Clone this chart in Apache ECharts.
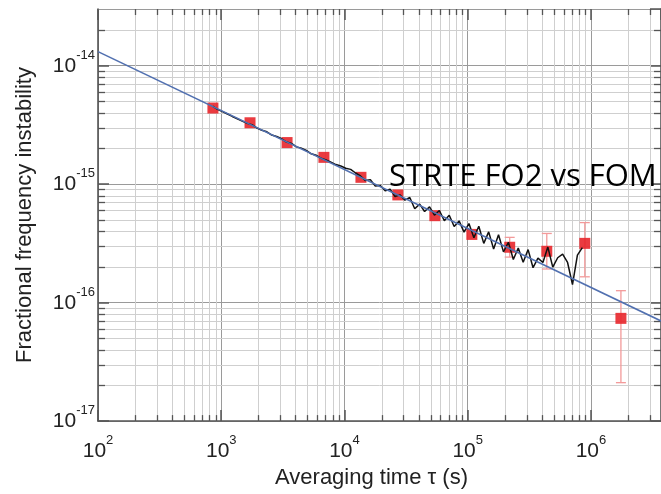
<!DOCTYPE html>
<html>
<head>
<meta charset="UTF-8">
<script src="https://cdn.jsdelivr.net/npm/echarts@6/dist/echarts.min.js"></script>
<style>
  html, body { margin: 0; padding: 0; background: #fff; }
  #main { width: 661px; height: 494px; }
</style>
<title>Instability</title>
</head>
<body>
<div id="main"></div>
<script type="text/javascript">
// black trace: averaging time (s) and fractional instability
var curveTau = [851, 933, 1023, 1122, 1230, 1349, 1479, 1622, 1778, 1950,
  2138, 2344, 2570, 2818, 3090, 3388, 3715, 4074, 4467, 4898,
  5370, 5888, 6457, 7079, 7762, 8511, 9333, 10230, 11220, 12300,
  13490, 14790, 16220, 17780, 19500, 21380, 23440, 25700, 28180, 30900,
  33880, 37150, 40740, 44670, 48980, 53700, 58880, 64570, 70790, 77620,
  85110, 93330, 102300, 112200, 123000, 134900, 147900, 162200, 177800, 195000,
  213800, 234400, 257000, 281800, 309000, 338800, 371500, 407400, 446700, 489800,
  537000, 588800, 645700, 707900, 776200, 851100];
var curveSigma = [4.55e-15, 4.27e-15, 4.08e-15, 3.90e-15, 3.72e-15, 3.56e-15, 3.40e-15, 3.25e-15, 3.17e-15, 2.97e-15,
  2.84e-15, 2.76e-15, 2.59e-15, 2.52e-15, 2.41e-15, 2.26e-15, 2.20e-15, 2.06e-15, 2.01e-15, 1.92e-15,
  1.80e-15, 1.75e-15, 1.65e-15, 1.60e-15, 1.53e-15, 1.46e-15, 1.42e-15, 1.36e-15, 1.33e-15, 1.24e-15,
  1.17e-15, 1.07e-15, 1.09e-15, 9.61e-16, 9.73e-16, 8.78e-16, 9.05e-16, 7.86e-16, 8.11e-16, 7.32e-16,
  7.70e-16, 6.19e-16, 6.77e-16, 5.87e-16, 6.42e-16, 5.47e-16, 5.98e-16, 4.90e-16, 5.46e-16, 4.39e-16,
  4.89e-16, 3.93e-16, 4.64e-16, 3.52e-16, 4.40e-16, 3.16e-16, 3.95e-16, 2.83e-16, 3.74e-16, 2.68e-16,
  3.23e-16, 2.31e-16, 2.89e-16, 2.19e-16, 2.80e-16, 1.97e-16, 2.37e-16, 2.18e-16, 2.94e-16, 1.99e-16,
  2.39e-16, 2.56e-16, 2.18e-16, 1.42e-16, 2.51e-16, 2.91e-16];

// red points with error bars (null = no bar drawn)
var pointTau = [856, 1712, 3420, 6810, 13600, 27100, 54100, 108000, 219000, 438000, 891000, 1750000];
var pointSigma = [4.38e-15, 3.29e-15, 2.24e-15, 1.68e-15, 1.14e-15, 8.10e-16, 5.41e-16, 3.76e-16, 2.93e-16, 2.71e-16, 3.16e-16, 7.36e-17];
var pointLow = [null, null, null, null, null, null, null, null, 2.42e-16, 1.92e-16, 1.65e-16, 2.11e-17];
var pointHigh = [null, null, null, null, null, null, null, null, 3.55e-16, 3.83e-16, 4.73e-16, 1.26e-16];

// blue fit line end points
var fitTau = [100, 3.7e6];
var fitSigma = [1.31e-14, 7.0e-17];

// axis decades and minor steps
var xDecades = [1e2, 1e3, 1e4, 1e5, 1e6];
var yDecades = [1e-17, 1e-16, 1e-15, 1e-14];
var minorSteps = [2, 3, 4, 5, 6, 7, 8, 9];

var xMin = 100, xMax = 3.7e6, yMin = 1e-17, yMax = 3e-14;

var xMinor = [], yMinor = [];
xDecades.forEach(function (d) {
  minorSteps.forEach(function (m) { if (m * d < xMax) xMinor.push([m * d, yMin]); });
});
yDecades.forEach(function (d) {
  minorSteps.forEach(function (m) { if (m * d < yMax * 0.999) yMinor.push([xMin, m * d]); });
});

var curveData = curveTau.map(function (t, i) { return [t, curveSigma[i]]; });
var pointData = pointTau.map(function (t, i) { return [t, pointSigma[i]]; });
var barData = [];
pointTau.forEach(function (t, i) {
  if (pointLow[i] != null) barData.push([t, pointLow[i], pointHigh[i]]);
});
var fitData = fitTau.map(function (t, i) { return [t, fitSigma[i]]; });

function px(v) { return Math.round(v) + 0.5; }

var gridColor = '#cfcfcf';
var tickColor = '#555';

function vMinor(params, api) {
  var x = api.value(0);
  var a = api.coord([x, yMin]);
  var b = api.coord([x, yMax]);
  var cx = px(a[0]);
  return { type: 'group', children: [
    { type: 'line', shape: { x1: cx, y1: a[1], x2: cx, y2: b[1] }, style: { stroke: gridColor, lineWidth: 1 } },
    { type: 'line', shape: { x1: cx, y1: a[1], x2: cx, y2: a[1] - 6 }, style: { stroke: tickColor, lineWidth: 1.3 } },
    { type: 'line', shape: { x1: cx, y1: b[1], x2: cx, y2: b[1] + 6 }, style: { stroke: tickColor, lineWidth: 1.3 } }
  ]};
}

function hMinor(params, api) {
  var y = api.value(1);
  var a = api.coord([xMin, y]);
  var b = api.coord([xMax, y]);
  var cy = px(a[1]);
  return { type: 'group', children: [
    { type: 'line', shape: { x1: a[0], y1: cy, x2: b[0], y2: cy }, style: { stroke: gridColor, lineWidth: 1 } },
    { type: 'line', shape: { x1: a[0], y1: cy, x2: a[0] + 7, y2: cy }, style: { stroke: tickColor, lineWidth: 1.3 } },
    { type: 'line', shape: { x1: b[0], y1: cy, x2: b[0] - 7, y2: cy }, style: { stroke: tickColor, lineWidth: 1.3 } }
  ]};
}

function errorBar(params, api) {
  var t = api.value(0);
  var lo = api.coord([t, api.value(1)]);
  var hi = api.coord([t, api.value(2)]);
  var st = { stroke: '#f39a9a', lineWidth: 1.3 };
  return { type: 'group', children: [
    { type: 'line', shape: { x1: lo[0], y1: lo[1], x2: hi[0], y2: hi[1] }, style: st },
    { type: 'line', shape: { x1: lo[0] - 5, y1: lo[1], x2: lo[0] + 5, y2: lo[1] }, style: st },
    { type: 'line', shape: { x1: hi[0] - 5, y1: hi[1], x2: hi[0] + 5, y2: hi[1] }, style: st }
  ]};
}

function powLabel(v) {
  var e = Math.round(Math.log(v) / Math.LN10);
  return '{b|10}{s|' + e + '}';
}

var labelRich = {
  b: { fontSize: 21, lineHeight: 28, verticalAlign: 'bottom', fontFamily: 'Liberation Sans', color: '#222' },
  s: { fontSize: 13, lineHeight: 12, verticalAlign: 'top', fontFamily: 'Liberation Sans', color: '#222' }
};

var myChart = echarts.init(document.getElementById('main'));
var option = {
  animation: false,
  title: {
    text: 'STRTE FO2 vs FOM',
    left: 384,
    top: 157,
    textStyle: { fontFamily: 'Open Sans', fontSize: 31, fontWeight: 'normal', color: '#000' }
  },
  grid: { left: 98, top: 9, right: 0, bottom: 68 },
  xAxis: [{
    type: 'log', logBase: 10, min: xMin, max: xMax,
    name: 'Averaging time \u03c4 (s)', nameLocation: 'middle', nameGap: 44,
    nameTextStyle: { fontSize: 22, fontFamily: 'Liberation Sans', color: '#222', padding: [0, 16, 0, 0] },
    axisLine: { lineStyle: { color: '#555', width: 1.6 } },
    axisTick: { inside: true, length: 11, lineStyle: { color: tickColor, width: 1.5 } },
    axisLabel: { margin: 13, showMaxLabel: false, formatter: powLabel, rich: labelRich },
    splitLine: { show: true, lineStyle: { color: '#9a9a9a', width: 1 } }
  }, {
    type: 'log', logBase: 10, min: xMin, max: xMax, position: 'top',
    axisLine: { lineStyle: { color: '#9a9a9a', width: 1 } },
    axisTick: { inside: true, length: 11, lineStyle: { color: tickColor, width: 1.5 } },
    axisLabel: { show: false },
    splitLine: { show: false }
  }],
  yAxis: [{
    type: 'log', logBase: 10, min: yMin, max: yMax,
    name: 'Fractional frequency instability', nameLocation: 'middle', nameGap: 62,
    nameTextStyle: { fontSize: 22, fontFamily: 'Liberation Sans', color: '#222' },
    axisLine: { show: true, lineStyle: { color: '#555', width: 1.6 } },
    axisTick: { show: true, inside: true, length: 11, lineStyle: { color: tickColor, width: 1.5 } },
    axisLabel: { margin: 3, padding: [0, 0, 6, 0], showMaxLabel: false, formatter: powLabel, rich: labelRich },
    splitLine: { show: true, lineStyle: { color: '#9a9a9a', width: 1 } }
  }, {
    type: 'log', logBase: 10, min: yMin, max: yMax, position: 'right',
    axisLine: { show: true, lineStyle: { color: '#555', width: 1.6 } },
    axisTick: { show: true, inside: true, length: 11, lineStyle: { color: tickColor, width: 1.5 } },
    axisLabel: { show: false },
    splitLine: { show: false }
  }],
  series: [
    { type: 'custom', name: 'xminor', silent: true, z: 1, renderItem: vMinor, data: xMinor, clip: false },
    { type: 'custom', name: 'yminor', silent: true, z: 1, renderItem: hMinor, data: yMinor, clip: false },
    { type: 'custom', name: 'errors', silent: true, z: 3, renderItem: errorBar, data: barData,
      encode: { x: 0, y: [1, 2] } },
    { type: 'scatter', name: 'points', z: 4, symbol: 'rect', symbolSize: 11, data: pointData,
      itemStyle: { color: '#e8262b', opacity: 0.9 } },
    { type: 'line', name: 'trace', z: 5, showSymbol: false, data: curveData,
      lineStyle: { color: '#111', width: 1.5 } },
    { type: 'line', name: 'fit', z: 6, showSymbol: false, data: fitData,
      lineStyle: { color: '#5170b0', width: 1.6 } }
  ]
};
myChart.setOption(option);
</script>
</body>
</html>
